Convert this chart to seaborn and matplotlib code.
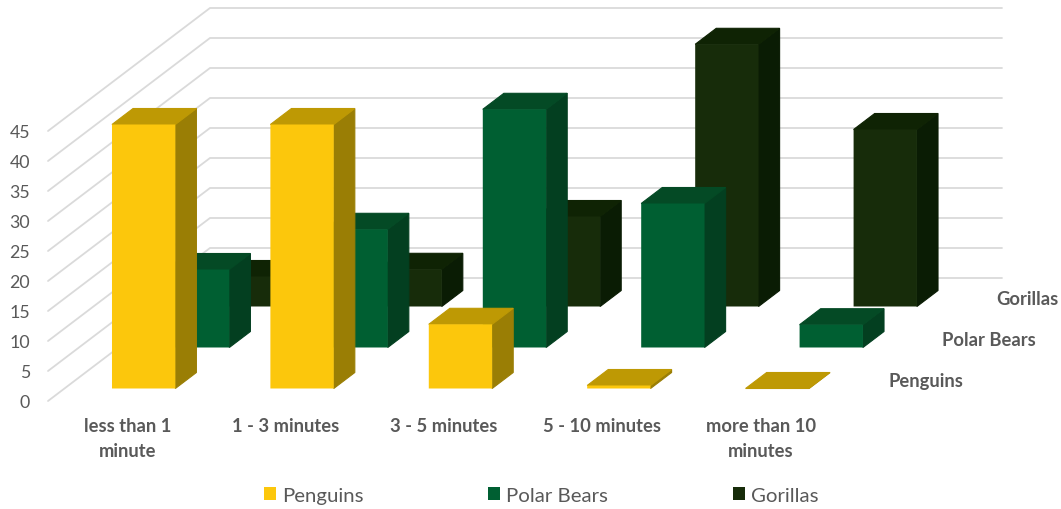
import matplotlib
matplotlib.use("Agg")
import matplotlib.pyplot as plt
from matplotlib.patches import Patch
import pandas as pd
import seaborn as sns

categories = ["less than 1\nminute", "1 - 3 minutes", "3 - 5 minutes",
              "5 - 10 minutes", "more than 10\nminutes"]
series_names = ["Penguins", "Polar Bears", "Gorillas"]
penguins = [44, 44, 10.7, 0.5, 0]
polar_bears = [13, 19.7, 39.7, 24, 3.8]
gorillas = [5, 6.2, 15, 43.7, 29.5]
value_ticks = [0, 5, 10, 15, 20, 25, 30, 35, 40, 45]

front_colors = ["#FCC70C", "#005F32", "#172C0A"]
top_colors = ["#BE9904", "#044A25", "#0F2304"]
side_colors = ["#9A7E05", "#033F20", "#0A1C04"]
TEXT = "#595959"
GRID = "#DADADA"

# Oblique projection: one depth slot shifts a point right and up, in data units.
CATEGORY_PX = 158.4
VALUE_PX = 6.0
SHEAR_X = 54 / CATEGORY_PX
SHEAR_Y = 41 / VALUE_PX
BAR_WIDTH = 0.4
DEPTH_GAP = 0.305
BAR_DEPTH = 0.39
SEAM = 0.8


def project(cat, depth, value):
    return cat + SHEAR_X * depth, value + SHEAR_Y * depth


sns.set_theme(style="white")
plt.rcParams["font.family"] = ["Lato", "DejaVu Sans"]

fig = plt.figure(figsize=(10.61, 5.10), dpi=100)
ax = fig.add_axes([0, 0, 1, 1])

# Back wall and side wall gridlines
n_cat = len(categories)
n_depth = len(series_names)
for tick in value_ticks:
    corners = [project(0, 0, tick), project(0, n_depth, tick), project(n_cat, n_depth, tick)]
    ax.plot(*zip(*corners), color=GRID, lw=1.3, zorder=1, solid_joinstyle="miter")
    x, y = project(0, 0, tick)
    ax.text(x - 18 / CATEGORY_PX, y - 1 / VALUE_PX, str(tick), ha="right", va="center",
            fontsize=12.8, color=TEXT)

# Bars from the back row to the front row, so nearer ones cover farther ones
rows = [penguins, polar_bears, gorillas]
for s in reversed(range(n_depth)):
    z = 10 + (n_depth - s) * 2
    d0 = s + DEPTH_GAP
    d1 = d0 + BAR_DEPTH
    lefts = [project(c + (1 - BAR_WIDTH) / 2, d0, 0)[0] for c in range(n_cat)]
    frame = pd.DataFrame({"pos": [l + BAR_WIDTH / 2 for l in lefts], "value": rows[s]})
    for c, v in enumerate(rows[s]):
        c0 = c + (1 - BAR_WIDTH) / 2
        c1 = c0 + BAR_WIDTH
        side = [project(c1, d0, 0), project(c1, d1, 0), project(c1, d1, v), project(c1, d0, v)]
        top = [project(c0, d0, v), project(c1, d0, v), project(c1, d1, v), project(c0, d1, v)]
        ax.fill(*zip(*side), facecolor=side_colors[s], edgecolor=side_colors[s], lw=SEAM, zorder=z)
        ax.fill(*zip(*top), facecolor=top_colors[s], edgecolor=top_colors[s], lw=SEAM, zorder=z)
    sns.barplot(data=frame, x="pos", y="value", native_scale=True, width=BAR_WIDTH,
                bottom=project(0, d0, 0)[1], color=front_colors[s], saturation=1,
                errorbar=None, linewidth=0, zorder=z + 1, ax=ax)
    # Keep front faces on the same sub-pixel edges as their side faces
    for bar in ax.containers[-1]:
        bar.set_snap(False)
    # Depth axis label beside the floor
    x, y = project(n_cat, s + 0.5, 0)
    ax.text(x + 21 / CATEGORY_PX, y, series_names[s], ha="left", va="center",
            fontsize=13.2, fontweight="bold", color=TEXT)

# Category labels under the floor
for c, label in enumerate(categories):
    ax.text(c + 0.5, -2.6, label, ha="center", va="top", fontsize=13.2,
            fontweight="bold", color=TEXT, linespacing=1.6)

handles = [Patch(facecolor=col, edgecolor="none", label=name)
           for col, name in zip(front_colors, series_names)]
ax.legend(handles=handles, ncol=3, frameon=False, loc="center", fontsize=14.7,
          labelcolor=TEXT, handlelength=0.6, handleheight=0.6, handletextpad=0.3,
          columnspacing=6.1, bbox_to_anchor=(0.51, 0.027))

ax.set_xlim(-48 / CATEGORY_PX, (1061 - 48) / CATEGORY_PX)
ax.set_ylim((402 - 510) / VALUE_PX, 402 / VALUE_PX)
ax.axis("off")

fig.savefig("out.png", dpi=100)
